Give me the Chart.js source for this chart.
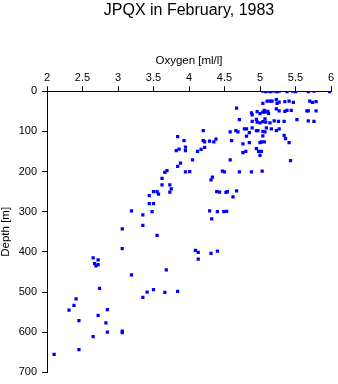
<!DOCTYPE html>
<html>
<head>
<meta charset="utf-8">
<script src="https://cdn.jsdelivr.net/npm/chart.js@4/dist/chart.umd.min.js"></script>
<style>
html,body{margin:0;padding:0;background:#fff;}
#wrap{width:338px;height:384px;position:relative;}
</style>
</head>
<body>
<div id="wrap"><canvas id="c"></canvas></div>
<script>
const chartTitle = 'JPQX in February, 1983';
const xAxisTitle = 'Oxygen [ml/l]';
const yAxisTitle = 'Depth [m]';
const xTickLabels = ['2','2.5','3','3.5','4','4.5','5','5.5','6'];
const yTickLabels = ['0','100','200','300','400','500','600','700'];

// Oxygen [ml/l]
const oxygen = [
  3.84,3.93,3.95,3.95,3.86,3.82,3.88,3.84,3.95,4.01,3.69,3.66,3.62,3.62,3.73,3.75,3.73,3.50,3.55,3.57,3.44,3.44,3.50,3.48,3.19,3.35,3.35,3.06,
  3.55,3.06,2.65,2.72,2.67,2.69,2.72,3.68,3.19,2.74,3.35,3.41,3.50,3.66,3.84,2.41,2.38,2.31,2.45,2.85,2.72,2.83,2.85,3.06,3.06,2.65,2.45,2.10,
  5.04,5.08,5.12,5.15,5.20,5.24,5.27,5.38,5.46,5.50,5.68,5.76,5.98,
  5.04,5.10,5.14,5.17,5.23,5.24,5.27,5.35,5.41,5.47,5.70,5.74,5.79,
  4.67,4.88,4.89,4.96,5.00,5.04,5.06,5.07,5.11,5.12,5.23,5.27,5.35,5.38,5.44,5.66,5.68,5.79,
  4.71,4.89,4.95,4.96,5.00,5.04,5.07,5.08,5.14,5.20,5.26,5.34,5.52,5.68,5.76,
  4.20,4.58,4.66,4.69,4.78,4.81,4.89,4.85,4.95,4.97,5.04,5.07,5.09,5.04,5.16,5.23,5.27,5.34,5.36,5.41,4.81,
  4.20,4.22,4.29,4.35,4.38,4.60,4.76,4.85,5.00,5.02,5.06,
  4.17,4.22,4.12,4.95,4.76,4.80,4.98,5.02,5.00,
  4.05,4.58,5.43,
  4.47,4.50,4.71,4.88,5.03,
  4.33,4.31,
  4.39,4.43,4.52,4.54,4.67,4.62,
  4.29,4.40,4.49,4.53,4.32,
  4.09,4.13,4.31,4.40,4.13
];
// Depth [m]
const depth = [
  113,123,139,148,144,148,179,187,201,200,198,202,217,233,233,243,251,250,250,256,260,280,280,300,298,308,334,343,
  359,392,415,420,429,435,432,445,457,491,513,500,494,501,498,517,533,545,571,544,558,577,600,597,601,611,643,655,
  0,1,0,1,0,1,0,1,0,1,1,0,1,
  30,25,25,25,21,30,27,26,25,28,25,28,26,
  42,54,59,51,56,52,48,52,50,55,44,49,50,48,48,49,49,49,
  71,75,70,77,79,76,69,77,79,74,75,75,71,74,75,
  98,101,98,101,94,94,91,103,98,98,100,101,91,111,94,98,94,110,118,128,112,
  123,126,124,126,119,123,131,128,128,126,126,
  145,140,150,143,153,150,150,150,160,
  171,171,173,
  199,201,201,201,199,
  214,221,
  250,251,252,250,248,263,
  298,300,300,299,318,
  396,401,404,398,418
];

const points = oxygen.map((v, i) => ({x: v, y: depth[i]}));

const xTickMap = {};
xTickLabels.forEach(l => { xTickMap[parseFloat(l).toFixed(2)] = l; });
const yTickMap = {};
yTickLabels.forEach(l => { yTickMap[String(parseFloat(l))] = l; });

const FONT = "'Liberation Sans', Arial, Helvetica, sans-serif";

new Chart(document.getElementById('c'), {
  type: 'scatter',
  data: {
    datasets: [{
      data: points,
      pointStyle: 'rect',
      pointRadius: 2.3,
      pointHoverRadius: 2.3,
      pointBackgroundColor: '#0000ff',
      pointBorderColor: '#0000ff',
      pointBorderWidth: 0,
      showLine: false
    }]
  },
  options: {
    responsive: true,
    maintainAspectRatio: false,
    animation: false,
    events: [],
    layout: { padding: { left: 0, right: 7, top: 0, bottom: 9 } },
    plugins: {
      legend: { display: false },
      tooltip: { enabled: false },
      title: {
        display: true,
        text: chartTitle,
        fullSize: false,
        color: '#000',
        font: { family: FONT, size: 16, weight: 'normal', lineHeight: 1.2 },
        padding: { top: 1, bottom: 10 }
      }
    },
    scales: {
      x: {
        type: 'linear',
        position: 'top',
        min: 2, max: 6,
        afterFit: s => { s.height = 61; },
        ticks: {
          stepSize: 0.5,
          color: '#000',
          padding: 2,
          maxRotation: 0,
          font: { family: FONT, size: 11 },
          callback: v => xTickMap[Number(v).toFixed(2)] ?? ''
        },
        grid: { display: true, drawOnChartArea: false, drawTicks: true, tickLength: 5, color: '#000', lineWidth: 1 },
        border: { display: true, color: '#000', width: 1 },
        title: {
          display: true,
          text: xAxisTitle,
          color: '#000',
          font: { family: FONT, size: 11.5, lineHeight: 1.2 },
          padding: { top: 24, bottom: 0 }
        }
      },
      y: {
        type: 'linear',
        position: 'left',
        reverse: true,
        min: 0, max: 700,
        afterFit: s => { s.width = 47; },
        ticks: {
          stepSize: 100,
          color: '#000',
          padding: 5,
          font: { family: FONT, size: 11 },
          callback: v => yTickMap[String(v)] ?? ''
        },
        grid: { display: true, drawOnChartArea: false, drawTicks: true, tickLength: 5, color: '#000', lineWidth: 1 },
        border: { display: true, color: '#000', width: 1 },
        title: {
          display: true,
          text: yAxisTitle,
          color: '#000',
          font: { family: FONT, size: 11.5, lineHeight: 1 },
          padding: { top: 0, bottom: 0 }
        }
      }
    }
  }
});
</script>
</body>
</html>
